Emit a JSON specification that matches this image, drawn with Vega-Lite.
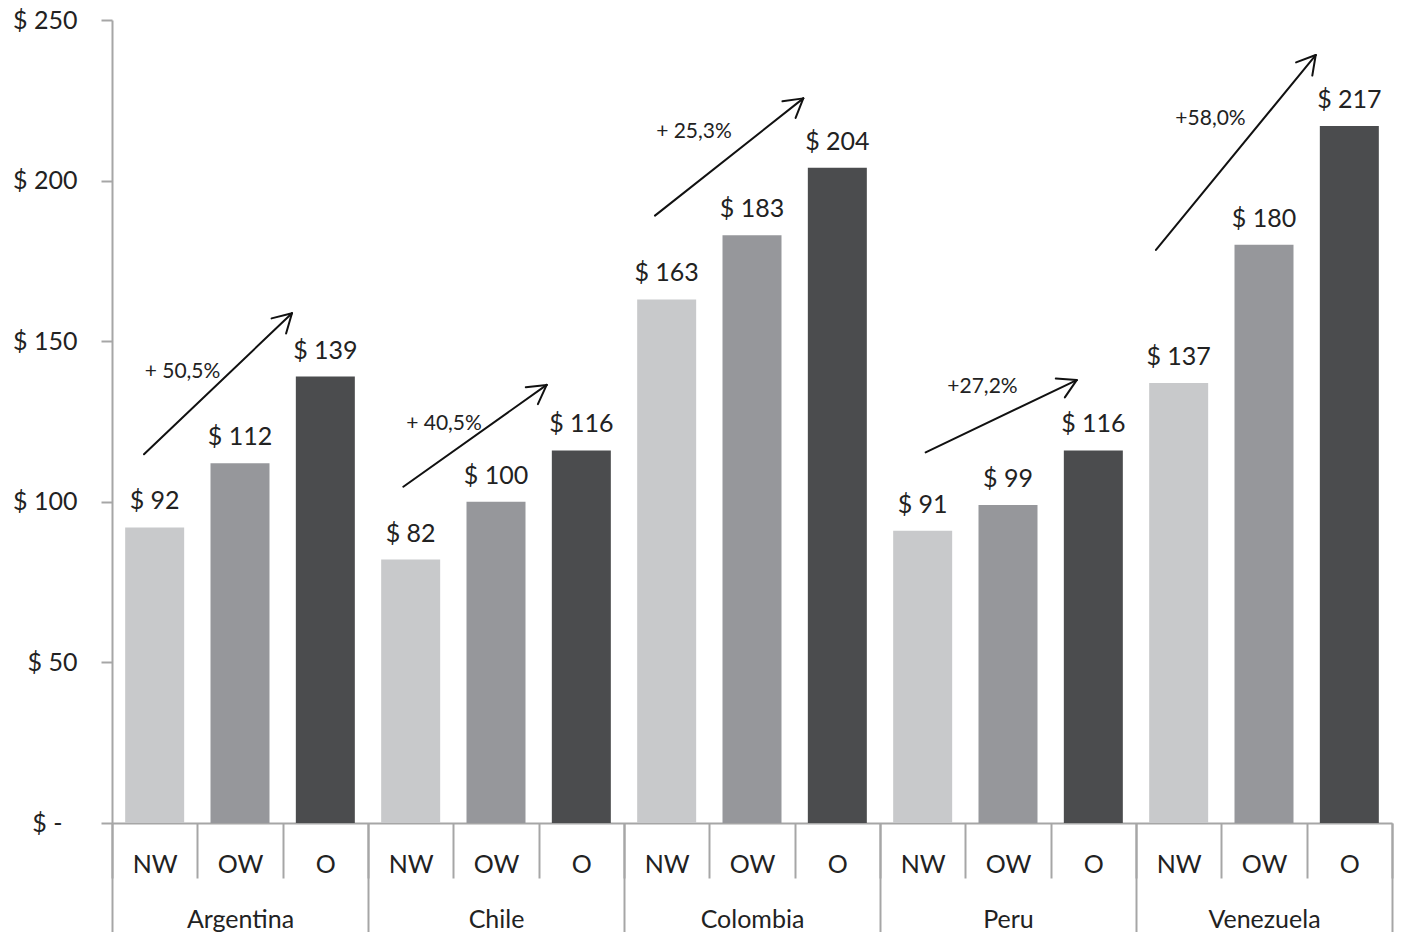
{
  "$schema": "https://vega.github.io/schema/vega-lite/v6.json",
  "autosize": "none",
  "padding": {"left": 112, "top": 20, "right": 9, "bottom": 109},
  "width": 1280,
  "height": 803,
  "background": "white",
  "config": {"view": {"stroke": null}, "font": "Lato", "text": {"font": "Lato"}},
  "datasets": {
    "bars": [
      {"country": "Argentina", "group": "NW", "slot": 0, "value": 92},
      {"country": "Argentina", "group": "OW", "slot": 1, "value": 112},
      {"country": "Argentina", "group": "O", "slot": 2, "value": 139},
      {"country": "Chile", "group": "NW", "slot": 3, "value": 82},
      {"country": "Chile", "group": "OW", "slot": 4, "value": 100},
      {"country": "Chile", "group": "O", "slot": 5, "value": 116},
      {"country": "Colombia", "group": "NW", "slot": 6, "value": 163},
      {"country": "Colombia", "group": "OW", "slot": 7, "value": 183},
      {"country": "Colombia", "group": "O", "slot": 8, "value": 204},
      {"country": "Peru", "group": "NW", "slot": 9, "value": 91},
      {"country": "Peru", "group": "OW", "slot": 10, "value": 99},
      {"country": "Peru", "group": "O", "slot": 11, "value": 116},
      {"country": "Venezuela", "group": "NW", "slot": 12, "value": 137},
      {"country": "Venezuela", "group": "OW", "slot": 13, "value": 180},
      {"country": "Venezuela", "group": "O", "slot": 14, "value": 217}
    ],
    "arrows": [
      {"country": "Argentina", "part": "shaft", "xa": -0.125, "ya": 114.8, "xb": 1.609, "yb": 158.7},
      {"country": "Argentina", "part": "head1", "xa": 1.370, "ya": 157.1, "xb": 1.609, "yb": 158.7},
      {"country": "Argentina", "part": "head2", "xa": 1.540, "ya": 152.4, "xb": 1.609, "yb": 158.7},
      {"country": "Chile", "part": "shaft", "xa": 2.914, "ya": 104.7, "xb": 4.594, "yb": 136.4},
      {"country": "Chile", "part": "head1", "xa": 4.349, "ya": 135.7, "xb": 4.594, "yb": 136.4},
      {"country": "Chile", "part": "head2", "xa": 4.491, "ya": 130.4, "xb": 4.594, "yb": 136.4},
      {"country": "Colombia", "part": "shaft", "xa": 5.863, "ya": 189.1, "xb": 7.601, "yb": 225.6},
      {"country": "Colombia", "part": "head1", "xa": 7.357, "ya": 224.7, "xb": 7.601, "yb": 225.6},
      {"country": "Colombia", "part": "head2", "xa": 7.511, "ya": 219.5, "xb": 7.601, "yb": 225.6},
      {"country": "Peru", "part": "shaft", "xa": 9.035, "ya": 115.4, "xb": 10.805, "yb": 137.9},
      {"country": "Peru", "part": "head1", "xa": 10.560, "ya": 138.4, "xb": 10.805, "yb": 137.9},
      {"country": "Peru", "part": "head2", "xa": 10.666, "ya": 132.5, "xb": 10.805, "yb": 137.9},
      {"country": "Venezuela", "part": "shaft", "xa": 11.734, "ya": 178.4, "xb": 13.606, "yb": 239.1},
      {"country": "Venezuela", "part": "head1", "xa": 13.376, "ya": 236.8, "xb": 13.606, "yb": 239.1},
      {"country": "Venezuela", "part": "head2", "xa": 13.566, "ya": 232.7, "xb": 13.606, "yb": 239.1}
    ],
    "growth": [
      {"country": "Argentina", "label": "+ 50,5%", "xp": 0.326, "yp": 138.6},
      {"country": "Chile", "label": "+ 40,5%", "xp": 3.391, "yp": 122.4},
      {"country": "Colombia", "label": "+ 25,3%", "xp": 6.320, "yp": 213.2},
      {"country": "Peru", "label": "+27,2%", "xp": 9.701, "yp": 133.8},
      {"country": "Venezuela", "label": "+58,0%", "xp": 12.373, "yp": 217.3}
    ]
  },
  "layer": [
    {
      "data": {"name": "bars"},
      "mark": {"type": "bar", "width": 59},
      "encoding": {
        "x": {
          "field": "slot", "type": "quantitative",
          "scale": {"domain": [-0.5, 14.5], "nice": false, "zero": false, "padding": 0},
          "axis": {
            "orient": "bottom",
            "values": [-0.5, 0.5, 1.5, 2.5, 3.5, 4.5, 5.5, 6.5, 7.5, 8.5, 9.5, 10.5, 11.5, 12.5, 13.5, 14.5],
            "labelExpr": "datum.value > 14 ? '' : ['NW','OW','O'][round(datum.value + 0.5) % 3]",
            "labelOffset": 42.667,
            "labelFlush": false,
            "labelOverlap": false,
            "labelBound": false,
            "labelAlign": "center",
            "labelBaseline": "alphabetic",
            "labelPadding": -6,
            "labelFontSize": 25,
            "labelFont": "Lato",
            "labelColor": "#222222",
            "tickSize": 55,
            "tickColor": "#a6a6a6",
            "tickWidth": 2,
            "domainColor": "#a6a6a6",
            "domainWidth": 2,
            "grid": false,
            "title": null
          }
        },
        "y": {
          "field": "value", "type": "quantitative",
          "scale": {"domain": [0, 250], "nice": false},
          "axis": {
            "orient": "left",
            "values": [0, 50, 100, 150, 200, 250],
            "labelExpr": "datum.value == 0 ? '$ -' : '$ ' + datum.value",
            "labelFontSize": 25,
            "labelFont": "Lato",
            "labelColor": "#222222",
            "labelBaseline": "middle",
            "labelPadding": {"condition": {"test": "datum.value == 0", "value": 39}, "value": 24},
            "tickSize": 11,
            "tickColor": "#a6a6a6",
            "tickWidth": 2,
            "domainColor": "#a6a6a6",
            "domainWidth": 2,
            "grid": false,
            "title": null
          }
        },
        "color": {
          "field": "group", "type": "nominal",
          "scale": {"domain": ["NW", "OW", "O"], "range": ["#c8c9cb", "#96979b", "#4b4c4e"]},
          "legend": null
        }
      }
    },
    {
      "data": {"name": "bars"},
      "mark": {"type": "text", "fontSize": 25, "baseline": "alphabetic", "align": "center", "dy": -18, "color": "#222222", "text": {"expr": "'$ ' + datum.value"}},
      "encoding": {
        "x": {"field": "slot", "type": "quantitative", "scale": {"domain": [-0.5, 14.5], "nice": false, "zero": false}, "axis": null},
        "y": {"field": "value", "type": "quantitative", "scale": {"domain": [0, 250], "nice": false}, "axis": {"title": null}}
      }
    },
    {
      "data": {"name": "arrows"},
      "mark": {"type": "rule", "color": "#111111", "strokeWidth": 2, "strokeCap": "round"},
      "encoding": {
        "x": {"field": "xa", "type": "quantitative", "scale": {"domain": [-0.5, 14.5], "nice": false, "zero": false}, "axis": null},
        "x2": {"field": "xb"},
        "y": {"field": "ya", "type": "quantitative", "scale": {"domain": [0, 250], "nice": false}, "axis": {"title": null}},
        "y2": {"field": "yb"}
      }
    },
    {
      "data": {"name": "growth"},
      "mark": {"type": "text", "fontSize": 21, "baseline": "alphabetic", "align": "center", "color": "#222222"},
      "encoding": {
        "x": {"field": "xp", "type": "quantitative", "scale": {"domain": [-0.5, 14.5], "nice": false, "zero": false}, "axis": null},
        "y": {"field": "yp", "type": "quantitative", "scale": {"domain": [0, 250], "nice": false}, "axis": {"title": null}},
        "text": {"field": "label"}
      }
    },
    {
      "data": {"name": "bars"},
      "mark": {"type": "point", "opacity": 0},
      "encoding": {
        "x": {
          "field": "slot", "type": "quantitative",
          "scale": {"domain": [-0.5, 14.5], "nice": false, "zero": false},
          "axis": {
            "orient": "bottom",
            "values": [-0.5, 2.5, 5.5, 8.5, 11.5, 14.5],
            "labelExpr": "datum.value > 14 ? '' : ['Argentina','Chile','Colombia','Peru','Venezuela'][round((datum.value + 0.5) / 3)]",
            "labelOffset": 128,
            "labelFlush": false,
            "labelOverlap": false,
            "labelBound": false,
            "labelAlign": "center",
            "labelBaseline": "alphabetic",
            "labelPadding": -11,
            "labelFontSize": 25,
            "labelFont": "Lato",
            "labelColor": "#222222",
            "tickSize": 115,
            "tickColor": "#a6a6a6",
            "tickWidth": 2,
            "domain": false,
            "grid": false,
            "title": null
          }
        },
        "y": {"field": "value", "type": "quantitative", "scale": {"domain": [0, 250], "nice": false}, "axis": {"title": null}}
      }
    }
  ],
  "resolve": {"scale": {"x": "independent"}}
}
